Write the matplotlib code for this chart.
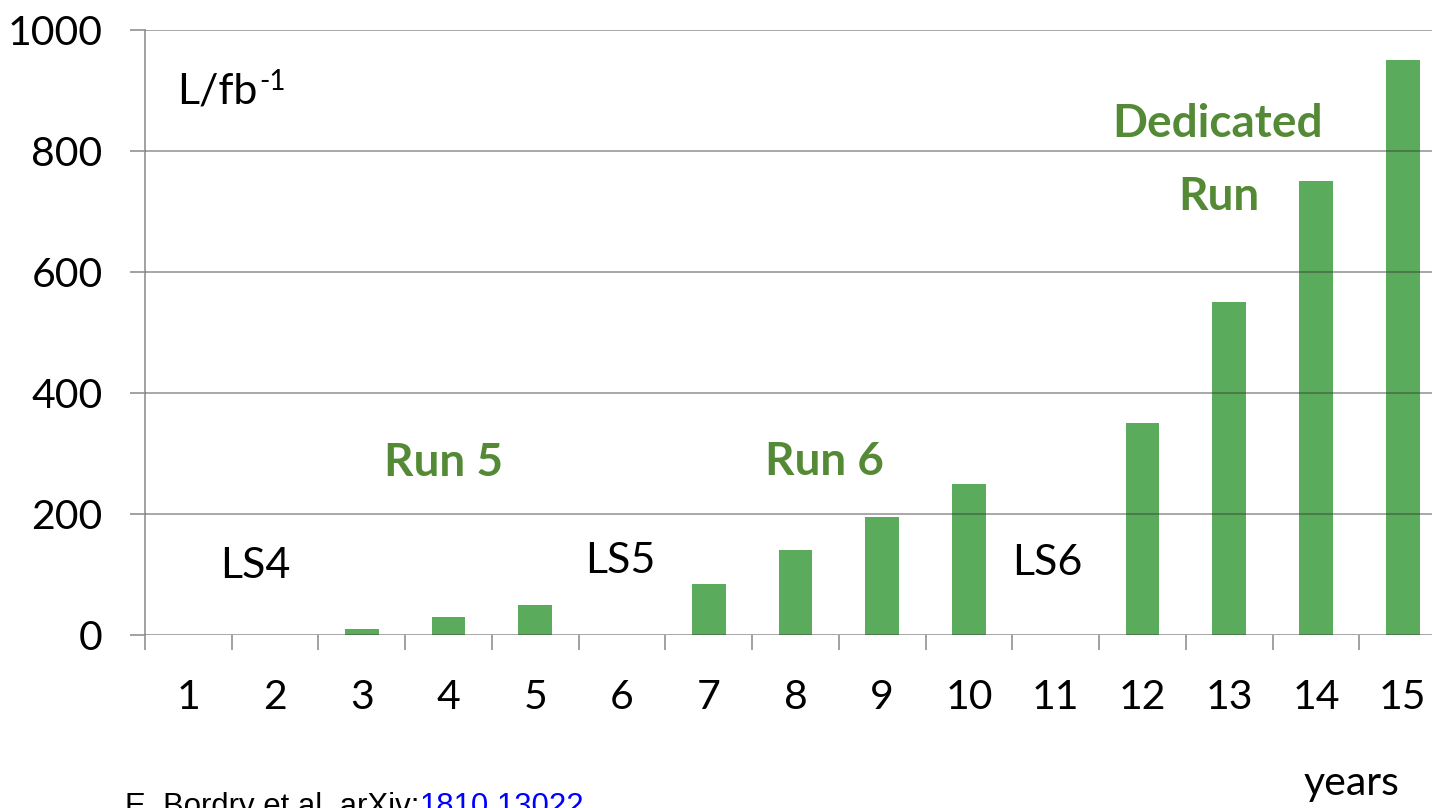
import matplotlib
matplotlib.use("Agg")
import matplotlib.pyplot as plt
from matplotlib.ticker import FixedLocator

# Integrated luminosity per year of operation
years = list(range(1, 16))
year_labels = [str(y) for y in years]
luminosity = [0, 0, 10, 30, 50, 0, 85, 140, 195, 250, 0, 350, 550, 750, 950]
y_ticks = [0, 200, 400, 600, 800, 1000]

BAR_GREEN = "#5aab5b"
TEXT_GREEN = "#548a35"
GRID = "#3c3c3c"
AXIS_GRAY = "#9a9a9a"
FONT = "Lato"

fig = plt.figure(figsize=(14.32, 8.08), dpi=100)
fig.patch.set_facecolor("white")
W, H = 1432, 808
ax = fig.add_axes([145 / W, 173 / H, 1301 / W, 605 / H])

ax.bar(years, luminosity, width=0.39, color=BAR_GREEN, zorder=2)

ax.set_xlim(0.5, 15.5)
ax.set_ylim(0, 1000)

# horizontal gridlines drawn over the bars
for v in y_ticks:
    ax.axhline(v, color=GRID, alpha=0.48, lw=1.3, zorder=3)

for side in ("top", "right", "bottom"):
    ax.spines[side].set_visible(False)
ax.spines["left"].set_color(AXIS_GRAY)
ax.spines["left"].set_linewidth(1.3)

ax.set_yticks(y_ticks)
ax.set_yticklabels([str(v) for v in y_ticks])
ax.tick_params(axis="y", length=10.5, width=1.3, color=AXIS_GRAY, pad=20,
               labelsize=29.5)

ax.set_xticks(years)
ax.set_xticklabels(year_labels)
ax.xaxis.set_minor_locator(FixedLocator([i + 0.5 for i in range(0, 16)]))
ax.tick_params(axis="x", which="major", length=0, pad=32, labelsize=29.5)
ax.tick_params(axis="x", which="minor", length=11, width=1.3, color=AXIS_GRAY)
for lab in ax.get_xticklabels() + ax.get_yticklabels():
    lab.set_fontfamily(FONT)
    lab.set_color("black")

# axis unit label with superscript
unit = ax.text(0.873, 879, "L/fb", fontsize=31, family=FONT, ha="left",
               va="baseline")
ax.annotate("-1", xy=(1, 1), xycoords=unit, xytext=(1, 2),
            textcoords="offset points", fontsize=20, family=FONT,
            ha="left", va="top")

# run / shutdown annotations
bold = dict(fontsize=33, family=FONT, fontweight="bold", color=TEXT_GREEN,
            ha="center", va="baseline")
ax.text(3.94, 263, "Run 5", **bold)
ax.text(8.33, 264, "Run 6", **bold)
ax.text(12.87, 823, "Dedicated", **bold)
ax.text(12.88, 702, "Run", **bold)

plain = dict(fontsize=31, family=FONT, color="black", ha="center",
             va="baseline")
ax.text(1.77, 94, "LS4", **plain)
ax.text(5.98, 102, "LS5", **plain)
ax.text(10.9, 99, "LS6", **plain)

fig.text(1352 / W, 1 - 795 / H, "years", fontsize=29.5, family=FONT,
         ha="center", va="baseline")

# reference line at the bottom edge
cite = fig.text(125 / W, 1 - 815 / H, "E. Bordry et al. arXiv:", fontsize=22.4,
                family="Liberation Sans", ha="left", va="baseline")
ax.annotate("1810.13022", xy=(1, 0), xycoords=cite, fontsize=22.4,
            family="Liberation Sans", color="#0000ff", ha="left", va="bottom",
            annotation_clip=False)

fig.savefig("out.png", dpi=100)
